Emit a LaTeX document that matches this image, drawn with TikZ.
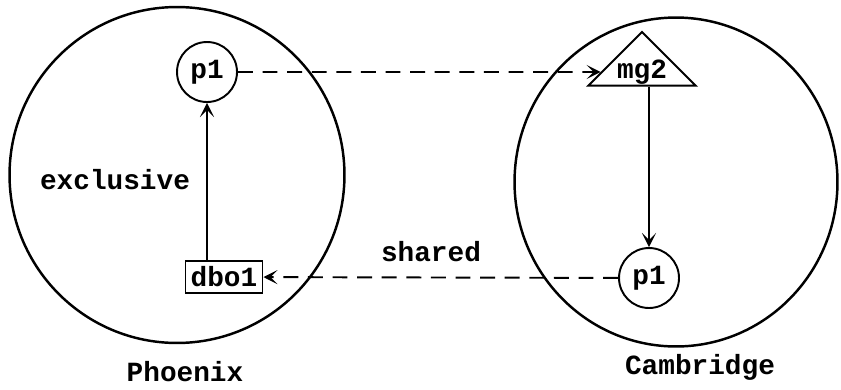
\documentclass[tikz,border=0pt]{standalone}
\usepackage{fontspec}
\setmonofont{Liberation Mono}
\usetikzlibrary{arrows.meta,shapes.geometric}

\begin{document}
\begin{tikzpicture}[
        x=0.02cm, y=-0.02cm,
        txt/.style={font=\ttfamily\bfseries\fontsize{15.8}{18}\selectfont},
        site/.style={draw, ellipse, line width=1.4pt, inner sep=0pt},
        proc/.style={txt, draw, circle, line width=1.1pt, minimum size=1.2cm, inner sep=0pt},
        obj/.style={txt, draw, rectangle, line width=1.1pt, minimum width=1.54cm, minimum height=0.64cm, inner sep=1pt},
        mgr/.style={txt, draw, isosceles triangle, shape border rotate=90,
                    isosceles triangle apex angle=90, line width=1.1pt, inner sep=0.8pt},
        conn/.style={line width=1.1pt, -{Stealth[length=8pt, width=8pt, inset=4pt]}},
        remote/.style={conn, dash pattern=on 8.5pt off 5.5pt}]

    \useasboundingbox (0,0) rectangle (841,389);

    % --- Sitios
    \node[site, minimum width=6.70cm, minimum height=6.72cm] (phoenix) at (177,175) {};
    \node[site, minimum width=6.46cm, minimum height=6.58cm] (cambridge) at (676,182) {};
    \node[txt] (phoenixlbl) at (185,372) {Phoenix};
    \node[txt] (cambridgelbl) at (700,367) {Cambridge};

    % --- Phoenix: proceso y objeto
    \node[proc] (p1ph) at (207,72) {p1};
    \node[obj] (dbo1) at (224,277) {dbo1};
    \draw[conn] (p1ph |- dbo1.north) -- (p1ph.south);
    \node[txt] (exclusive) at (115,180) {exclusive};

    % --- Cambridge: gestor y proceso
    \node[mgr] (mg2) at (642,72) {mg2};
    \node[proc] (p1cb) at (649,278) {p1};
    \draw[conn] (p1cb |- mg2.south) -- (p1cb.north);

    % --- Enlaces entre sitios
    \draw[remote] (p1ph) -- (mg2);
    \draw[remote] (p1cb) -- (dbo1);
    \node[txt] (shared) at (431,252) {shared};

\end{tikzpicture}
\end{document}
